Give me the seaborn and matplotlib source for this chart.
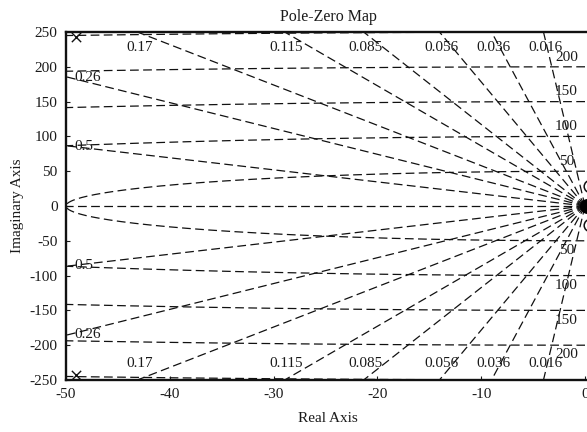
import numpy as np
import pandas as pd
import matplotlib
matplotlib.use("Agg")
import matplotlib.pyplot as plt
import seaborn as sns

# ---- data ----
zeta_top = [0.17, 0.115, 0.085, 0.056, 0.036, 0.016]   # damping lines labelled at top/bottom
zeta_side = [0.5, 0.26]                                  # damping lines labelled at left edge
wn_values = [50, 100, 150, 200, 250]                     # natural-frequency circles
wn_labelled = [50, 100, 150, 200]
pole_re = [-49.0, -49.0]
pole_im = [243.0, -243.0]
zero_re = [0.5, 0.5]
zero_im = [28.0, -28.0]
origin_re = [0.2]
origin_im = [0.0]
x_ticks = [-50, -40, -30, -20, -10, 0]
y_ticks = [-250, -200, -150, -100, -50, 0, 50, 100, 150, 200, 250]

sns.set_theme(style="ticks")
plt.rcParams["font.family"] = ["Liberation Serif", "DejaVu Serif"]
plt.rcParams["axes.unicode_minus"] = False

W, H = 587, 432
fig = plt.figure(figsize=(W / 100, H / 100), dpi=100)
xmin, xmax = -50.0, 0.5
ymin, ymax = -250.0, 250.0
px_per_x = 10.38
left_px, top_px, bot_px = 66, 32, 380
ax = fig.add_axes([left_px / W, (H - bot_px) / H,
                   (xmax - xmin) * px_per_x / W, (bot_px - top_px) / H])

# ---- grid geometry built from the data ----
rows = []
R = 600.0
gid = 0
for z in zeta_top + zeta_side + [1.0]:
    s = np.sqrt(1 - z * z)
    for sign in ([1, -1] if z < 1 else [1]):
        rows.append((gid, 0.0, 0.0))
        rows.append((gid, -R * z, sign * R * s))
        gid += 1
t = np.linspace(np.pi / 2, 3 * np.pi / 2, 3000)
for r in wn_values:
    for xx, yy in zip(r * np.cos(t), r * np.sin(t)):
        rows.append((gid, xx, yy))
    gid += 1
grid = pd.DataFrame(rows, columns=["id", "re", "im"])

sns.lineplot(data=grid, x="re", y="im", units="id", estimator=None, sort=False,
             color="#111111", lw=0.9, linestyle=(0, (7.0, 3.5)), ax=ax, legend=False)

# poles / zeros
sns.scatterplot(x=pole_re, y=pole_im, marker="x", s=45, color="#111111",
                linewidth=1.0, ax=ax, legend=False, zorder=5)
sns.scatterplot(x=zero_re, y=zero_im, marker="o", s=75, facecolor="none",
                edgecolor="#111111", linewidth=1.1, ax=ax, legend=False, zorder=5)
sns.scatterplot(x=origin_re, y=origin_im, marker="o", s=95, color="black",
                edgecolor="black", linewidth=1.0, ax=ax, legend=False, zorder=5)

# ---- labels ----
fs = 11
tc = "#1a1a1a"
for z in zeta_top:
    slope = np.sqrt(1 - z * z) / z
    xt = -ymax / slope + 0.2
    ax.text(xt, 228, f"{z:g}", ha="center", va="center", fontsize=fs, color=tc)
    ax.text(xt, -226, f"{z:g}", ha="center", va="center", fontsize=fs, color=tc)
for z in zeta_side:
    slope = np.sqrt(1 - z * z) / z
    yl = -xmin * slope - 1.5
    ax.text(-49.2, yl, f"{z:g}", ha="left", va="center", fontsize=fs, color=tc)
    ax.text(-49.2, -yl, f"{z:g}", ha="left", va="center", fontsize=fs, color=tc)
for r in wn_labelled:
    ax.text(-1.8, r + 14, f"{r}", ha="center", va="center", fontsize=fs, color=tc)
    ax.text(-1.8, -(r + 14), f"{r}", ha="center", va="center", fontsize=fs, color=tc)

ax.set_xlim(xmin, xmax)
ax.set_ylim(ymin, ymax)
ax.set_xticks(x_ticks)
ax.set_yticks(y_ticks)
ax.set_xticklabels([str(v) for v in x_ticks])
ax.set_yticklabels([str(v) for v in y_ticks])
ax.tick_params(direction="in", length=3, width=0.8, labelsize=fs, colors=tc, pad=6)
for sp in ax.spines.values():
    sp.set_visible(True)
    sp.set_color("#111111")
    sp.set_linewidth(1.7)

ax.set_title("Pole-Zero Map", fontsize=11.5, color=tc, pad=8)
ax.set_xlabel("Real Axis", fontsize=fs, color=tc, labelpad=8)
ax.set_ylabel("Imaginary Axis", fontsize=fs, color=tc, labelpad=4)

fig.savefig("out.png", dpi=100)
